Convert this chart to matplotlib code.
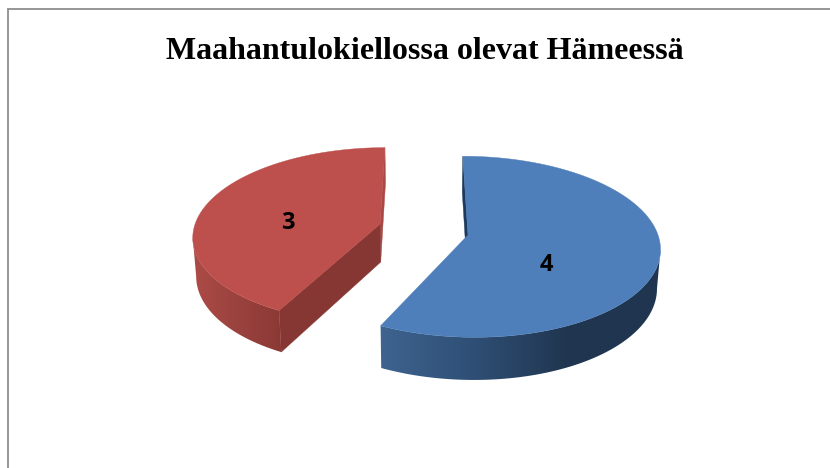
import numpy as np
import matplotlib
matplotlib.use("Agg")
import matplotlib.pyplot as plt
from matplotlib.colors import LinearSegmentedColormap
from matplotlib.patches import Polygon

title = "Maahantulokiellossa olevat Hämeessä"
slice_values = [4, 3]
slice_names = ["blue", "red"]

# view settings for the fake 3d pie (pixels of the 830x468 picture)
VIEW_X = 423
VIEW_Y = 235
PERSP = 0.13
SQUASH = 89
DEPTH = 39
SHRINK = 1.015


def project(x, v, lower=False):
    x = np.asarray(x, dtype=float)
    v = np.asarray(v, dtype=float)
    w = 1 + PERSP * v
    if lower:
        return VIEW_X + x / (w * SHRINK), VIEW_Y + (DEPTH - SQUASH * v) / (w * SHRINK)
    return VIEW_X + x / w, VIEW_Y - SQUASH * v / w


def rim(apex, radius, a1, a2):
    # angles are clockwise from the top, in degrees
    t = np.radians(np.linspace(a1, a2, 200))
    return apex[0] + radius * np.sin(t), apex[1] + np.cos(t)


def face(ax, xs, vs, color):
    top = np.column_stack(project(xs, vs))
    low = np.column_stack(project(xs, vs, lower=True))
    ax.add_patch(Polygon(np.vstack([top, low[::-1]]), closed=True, fc=color, ec=color, lw=0.3))


def wall(ax, xs, vs, colors, x_range):
    top = np.column_stack(project(xs, vs))
    low = np.column_stack(project(xs, vs, lower=True))
    # keep only the near part of the rim, up to the side extreme
    if x_range[0] < x_range[1]:
        i = np.argmin(top[:, 0])
        top, low = top[:i + 1], low[:i + 1]
    else:
        i = np.argmax(top[:, 0])
        top, low = top[i:], low[i:]
    patch = Polygon(np.vstack([top, low[::-1]]), closed=True, fc="none", ec="none")
    ax.add_patch(patch)
    cmap = LinearSegmentedColormap.from_list("wall", colors)
    grad = np.linspace(0, 1, 256).reshape(1, -1)
    im = ax.imshow(grad, cmap=cmap, aspect="auto", interpolation="bilinear",
                   extent=(x_range[0], x_range[1], 400, 100), zorder=2)
    im.set_clip_path(patch)


fig = plt.figure(figsize=(8.3, 4.68), dpi=100)
ax = fig.add_axes([0, 0, 1, 1])
ax.axis("off")

# chart frame, only left and top are in the picture
ax.plot([8, 8, 830], [468, 9, 9], color="#8e8e8e", lw=1.3, solid_joinstyle="miter")

angles = np.cumsum([0] + slice_values) / sum(slice_values) * 360
blue_a1, blue_a2 = angles[0], angles[1]
red_a1, red_a2 = angles[1], angles[2]
blue_apex = (45, 0.0)
red_apex = (-43.6, 0.125)

# red slice, start edge nudged a bit for the perspective
xs, vs = rim(red_apex, 188, red_a1 + 1.5, red_a2)
wall(ax, xs, vs, ["#ae4b47", "#9a423e", "#8a3834"], (190, 285))
face(ax, [red_apex[0], xs[-1]], [red_apex[1], vs[-1]], "#a84945")
face(ax, [red_apex[0], xs[0]], [red_apex[1], vs[0]], "#873733")
sx, sy = project(np.r_[red_apex[0], xs], np.r_[red_apex[1], vs])
ax.add_patch(Polygon(np.column_stack([sx, sy]), closed=True, fc="#bd504c", ec="#bd504c", lw=0.3, zorder=3))

# blue slice
xs, vs = rim(blue_apex, 190, blue_a1, blue_a2)
face(ax, [blue_apex[0], xs[0]], [blue_apex[1], vs[0]], "#1d3a5c")
wall(ax, xs, vs, ["#1f3550", "#203650", "#2f4f75", "#3e6490"], (660, 378))
sx, sy = project(np.r_[blue_apex[0], xs], np.r_[blue_apex[1], vs])
ax.add_patch(Polygon(np.column_stack([sx, sy]), closed=True, fc="#4f7fba", ec="#4f7fba", lw=0.3, zorder=3))

ax.text(425, 59, title, family="Liberation Serif", weight="bold", fontsize=23,
        ha="center", va="baseline", color="black")
ax.text(546, 265, str(slice_values[0]), family="Open Sans", weight="bold", fontsize=17,
        ha="center", va="center", color="black", zorder=4)
ax.text(288, 223, str(slice_values[1]), family="Open Sans", weight="bold", fontsize=17,
        ha="center", va="center", color="black", zorder=4)

ax.set_xlim(0, 830)
ax.set_ylim(468, 0)
fig.savefig("out.png", dpi=100, facecolor="white")
